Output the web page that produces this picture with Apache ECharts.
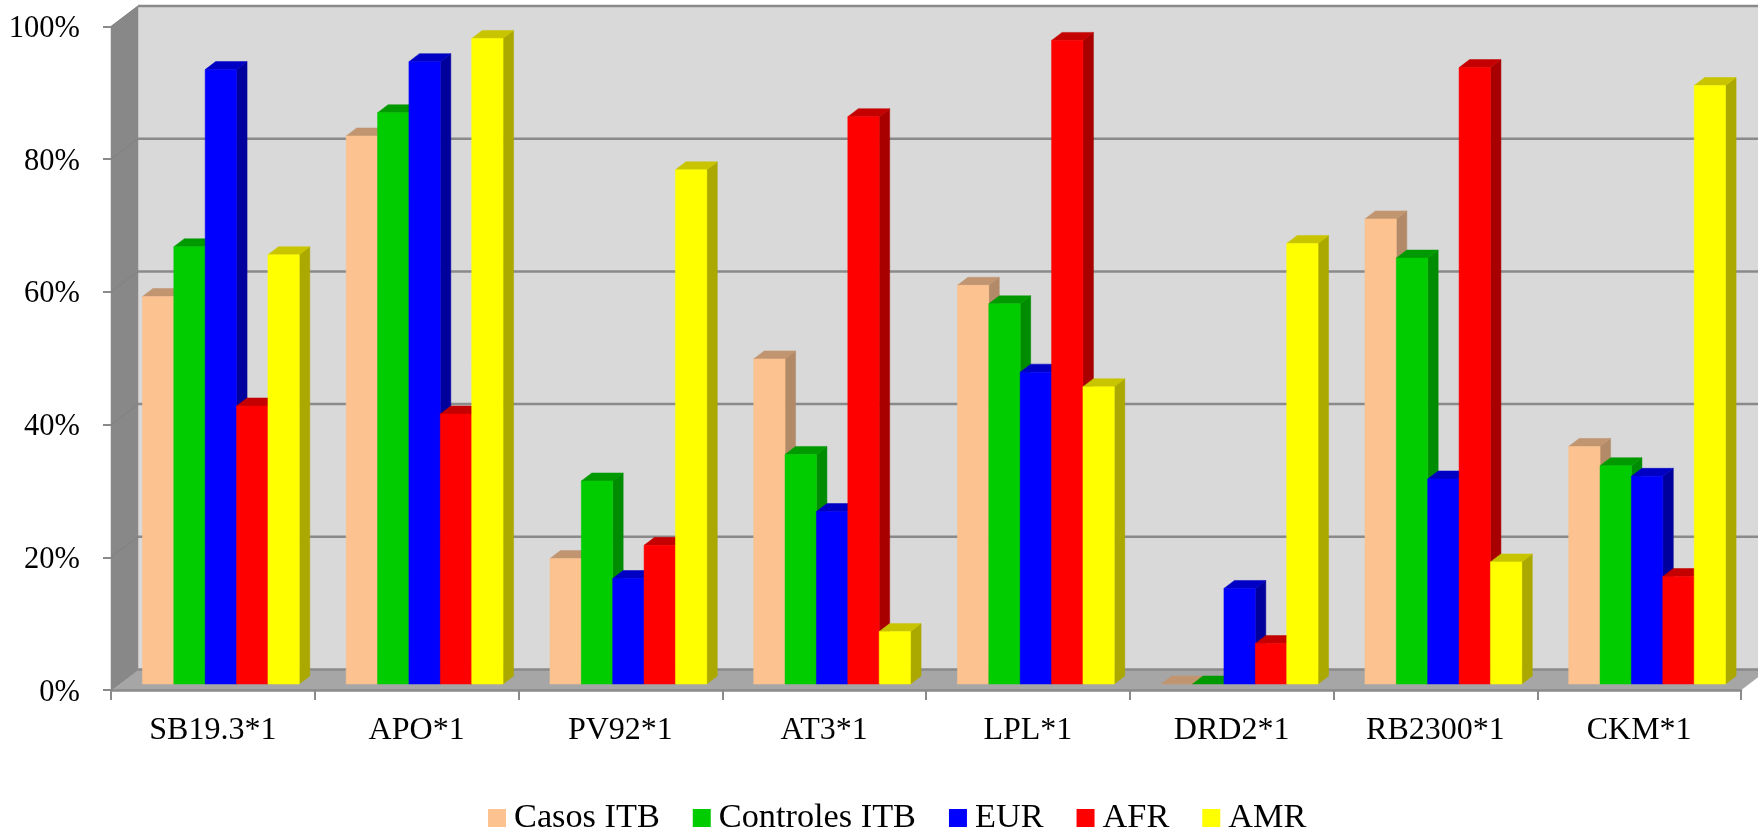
<!DOCTYPE html>
<html><head><meta charset="utf-8">
<style>html,body{margin:0;padding:0;background:#fff}#c{width:1758px;height:835px}</style>
<script src="https://cdn.jsdelivr.net/npm/echarts@6/dist/echarts.min.js"></script>
</head><body><div id="c"></div>
<script>
const categories = ['SB19.3*1','APO*1','PV92*1','AT3*1','LPL*1','DRD2*1','RB2300*1','CKM*1'];
const casosITB    = [58.4,82.6,18.9,49.0,60.1,0,70.1,35.8];
const controlesITB= [65.9,86.1,30.6,34.6,57.3,0,64.2,32.9];
const eur         = [92.6,93.8,15.9,26.0,47.0,14.4,30.9,31.3];
const afr         = [41.9,40.7,20.9,85.5,97.0,6.1,92.9,16.2];
const amr         = [64.7,97.3,77.5,7.9,44.8,66.4,18.4,90.2];
const yTicks = [0,20,40,60,80,100];

const FONT = '"Liberation Serif","Times New Roman",serif';
const WALL = {dx:27, dy:-20.5};
const PLANE = {dx:8, dy:-6};
const DEPTH = {dx:10.5, dy:-8};
const BAR_FRAC = 31.4/203.9;
const seriesDefs = [
  {name:'Casos ITB', values:casosITB, front:'#FCC28F', top:'#C09570', side:'#B38A68'},
  {name:'Controles ITB', values:controlesITB, front:'#00CC00', top:'#009A00', side:'#008C00'},
  {name:'EUR', values:eur, front:'#0000FF', top:'#0000C4', side:'#00009C'},
  {name:'AFR', values:afr, front:'#FF0000', top:'#C40000', side:'#A80000'},
  {name:'AMR', values:amr, front:'#FFFF00', top:'#C8C400', side:'#ABA800'}
];
const poly = (points, fill) => ({type:'polygon', shape:{points}, style:{fill, stroke:fill, lineWidth:0.5}});

function renderWalls(params, api){
  const g = params.coordSys, x0=g.x, x1=g.x+g.width, yT=g.y, yB=g.y+g.height;
  const d=WALL;
  return {type:'group', children:[
    poly([[x0+d.dx,yT+d.dy],[x1+d.dx,yT+d.dy],[x1+d.dx,yB+d.dy],[x0+d.dx,yB+d.dy]],'#D9D9D9'),
    poly([[x0,yT],[x0+d.dx,yT+d.dy],[x0+d.dx,yB+d.dy],[x0,yB]],'#888888'),
    poly([[x0,yB],[x0+d.dx,yB+d.dy],[x1+d.dx,yB+d.dy],[x1,yB]],'#A6A6A6')
  ]};
}
function renderGrid(params, api){
  const g = params.coordSys, x0=g.x, x1=g.x+g.width;
  const y = api.coord([0, api.value(0)])[1], d=WALL;
  return {type:'group', children:[
    {type:'line', shape:{x1:x0,y1:y,x2:x0+d.dx,y2:y+d.dy}, style:{stroke:'#808080',lineWidth:1}},
    {type:'line', shape:{x1:x0+d.dx,y1:y+d.dy,x2:x1+d.dx,y2:y+d.dy}, style:{stroke:'#8a8a8a',lineWidth:2.5}}
  ]};
}
function makeBar(i, def){
  return function(params, api){
    const cat=api.value(0), val=api.value(1);
    const w = api.size([1,0])[0]*BAR_FRAC;
    const base = api.coord([cat,0]), tip = api.coord([cat,val]);
    const L = base[0]+PLANE.dx+(i-2.5)*w, R=L+w;
    const B = base[1]+PLANE.dy, T=tip[1]+PLANE.dy;
    const d=DEPTH;
    const children=[
      poly([[R,T],[R+d.dx,T+d.dy],[R+d.dx,B+d.dy],[R,B]],def.side),
      poly([[L,T],[L+d.dx,T+d.dy],[R+d.dx,T+d.dy],[R,T]],def.top)
    ];
    if(val>0) children.push(poly([[L,T],[R,T],[R,B],[L,B]],def.front));
    return {type:'group', children};
  };
}

const chart = echarts.init(document.getElementById('c'), null, {renderer:'canvas'});
chart.setOption({
  animation:false,
  backgroundColor:'#fff',
  grid:{left:111, top:26.5, width:1630, height:663.5, containLabel:false},
  xAxis:{type:'category', data:categories,
    axisLine:{show:true,lineStyle:{color:'#8a8a8a',width:2.5}},
    axisTick:{show:true,alignWithLabel:false,length:10,lineStyle:{color:'#8a8a8a',width:2}},
    axisLabel:{color:'#000',fontFamily:FONT,fontSize:32,margin:25},
    splitLine:{show:false}, z:5},
  yAxis:{type:'value', min:0, max:100, interval:20,
    axisLine:{show:false},
    axisTick:{show:true,length:8,lineStyle:{color:'#8a8a8a',width:2}},
    axisLabel:{color:'#000',fontFamily:FONT,fontSize:30.5,margin:31,verticalAlign:'top',lineHeight:5,formatter:'{value}%'},
    splitLine:{show:false}},
  legend:{left:488, top:801, padding:0, itemWidth:18, itemHeight:18, itemGap:33, icon:'rect',
    data:seriesDefs.map(s=>s.name),
    textStyle:{fontFamily:FONT,fontSize:34.3,color:'#000',padding:[0,0,0,3]}, selectedMode:false},
  series:[
    {type:'custom', name:'_walls', data:[[0]], renderItem:renderWalls, z:1, silent:true},
    {type:'custom', name:'_grid', data:yTicks.map(v=>[v]), encode:{y:0}, renderItem:renderGrid, z:2, silent:true},
    ...seriesDefs.map((s,i)=>({type:'custom', name:s.name, z:3+i,
      itemStyle:{color:s.front},
      encode:{x:0,y:1},
      data:s.values.map((v,k)=>[k,v]),
      renderItem:makeBar(i,s)}))
  ]
});
</script></body></html>
